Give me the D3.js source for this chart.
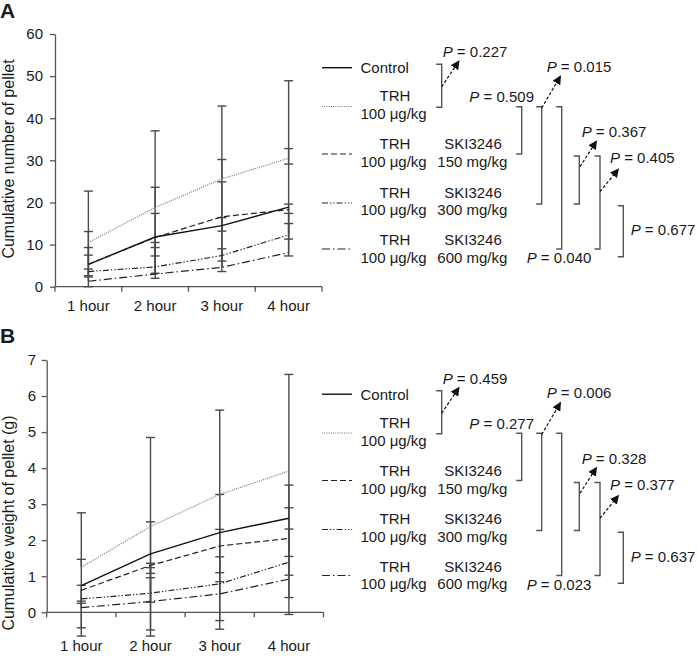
<!DOCTYPE html>
<html><head><meta charset="utf-8">
<script src="https://cdn.jsdelivr.net/npm/d3@7"></script>
<style>
html,body{margin:0;padding:0;background:#fff;}
text{font-family:"Liberation Sans",Arial,Helvetica,sans-serif;fill:#1a1a1a;}
</style></head>
<body><svg id="c" width="697" height="656"></svg>
<script>
// ---------- DATA ----------
const hours = ["1 hour", "2 hour", "3 hour", "4 hour"];
const seriesNames = ["Control", "TRH", "TRH+SKI3246 150", "TRH+SKI3246 300", "TRH+SKI3246 600"];

// Panel A: cumulative number of pellet (means)
const countControl = [5.3, 11.8, 14.5, 18.9];
const countTRH     = [10.5, 18.8, 25.6, 30.5];
const countSKI150  = [5.3, 11.7, 16.6, 18.3];
const countSKI300  = [3.6, 4.7, 7.4, 12.3];
const countSKI600  = [1.3, 3.0, 4.6, 8.1];
// error bar ends (upper / lower), null = not drawn
const countControlHi = [9.3, 23.6, 30.2, 32.8];
const countControlLo = [2.3, 2.0, 3.6, 7.3];
const countTRHHi     = [22.7, 37.0, 42.9, 48.9];
const countTRHLo     = [0, null, null, 29.1];
const countSKI150Hi  = [13.1, 17.4, 24.9, 19.6];
const countSKI150Lo  = [null, 7.3, 13.2, 11.3];
const countSKI300Hi  = [7.5, 10.5, 16.4, 17.4];
const countSKI300Lo  = [2.6, 3.2, 6.1, null];
const countSKI600Hi  = [4.2, 9.3, 9.0, 15.0];
const countSKI600Lo  = [null, null, null, null];

// Panel B: cumulative weight of pellet (g)
const weightControl = [0.74, 1.62, 2.21, 2.61];
const weightTRH     = [1.25, 2.38, 3.27, 3.92];
const weightSKI150  = [0.61, 1.30, 1.84, 2.05];
const weightSKI300  = [0.37, 0.53, 0.79, 1.39];
const weightSKI600  = [0.13, 0.30, 0.51, 0.92];
const weightControlHi = [1.47, 2.51, 3.27, 3.53];
const weightControlLo = [-0.66, 1.08, 1.10, 1.55];
const weightTRHHi     = [2.76, 4.85, 5.61, 6.60];
const weightTRHLo     = [null, -0.66, -0.47, -0.06];
const weightSKI150Hi  = [null, 1.36, 2.30, 2.90];
const weightSKI150Lo  = [-0.43, -0.49, -0.23, 1.03];
const weightSKI300Hi  = [0.75, 1.24, 1.54, 2.31];
const weightSKI300Lo  = [0.25, 0.28, null, 0.41];
const weightSKI600Hi  = [0.31, 0.96, 0.85, null];
const weightSKI600Lo  = [null, null, null, null];

const yTicksA = [0, 10, 20, 30, 40, 50, 60];
const yTicksB = [0, 1, 2, 3, 4, 5, 6, 7];

const pValuesA = ["0.227", "0.509", "0.015", "0.040", "0.367", "0.405", "0.677"];
const pValuesB = ["0.459", "0.277", "0.006", "0.023", "0.328", "0.377", "0.637"];

// ---------- STYLES ----------
const lineStyles = [
  {stroke: "#111", dash: null, w: 1.4},
  {stroke: "#777", dash: "1,1.2", w: 1.2},
  {stroke: "#222", dash: "6,3", w: 1.2},
  {stroke: "#222", dash: "6,2,1.3,2,1.3,2", w: 1.2},
  {stroke: "#222", dash: "8,3,1.5,3", w: 1.2}
];
const barColor = "#4a4a4a";
const FONT = 15;

const svg = d3.select("#c");

// arrow marker
svg.append("defs").append("marker")
  .attr("id", "ah").attr("viewBox", "0 0 10 10").attr("refX", 9).attr("refY", 5)
  .attr("markerWidth", 9).attr("markerHeight", 9).attr("markerUnits", "userSpaceOnUse")
  .attr("orient", "auto")
  .append("path").attr("d", "M0,0 L10,5 L0,10 Z").attr("fill", "#111");

function drawPanel(o) {
  const g = svg.append("g");
  const x = d3.scaleBand().domain(hours).range(o.xRange).padding(0);
  const y = d3.scaleLinear().domain(o.yDomain).range(o.yRange);
  const cx = d => x(d) + x.bandwidth() / 2;

  // panel letter
  g.append("text").attr("x", 0).attr("y", o.letterY).text(o.letter)
    .style("font-size", "21px").style("font-weight", "bold");

  // y axis
  const ya = g.append("g").attr("transform", `translate(${o.xRange[0]},0)`)
    .call(d3.axisLeft(y).tickValues(o.yTicks).tickFormat(d3.format("d"))
      .tickSize(5).tickSizeOuter(0).tickPadding(o.yPad));
  ya.selectAll("path,line").attr("stroke", "#555").attr("stroke-width", 1.3);
  ya.selectAll("text").style("font-size", FONT + "px").style("font-family", "Liberation Sans, Arial, sans-serif").attr("fill", "#1a1a1a");

  // x axis line + boundary ticks
  const y0 = y(0);
  g.append("line").attr("x1", o.xRange[0]).attr("x2", o.xRange[1]).attr("y1", y0).attr("y2", y0)
    .attr("stroke", "#555").attr("stroke-width", 1.3);
  const bounds = hours.map(h => x(h)).concat([x(hours[hours.length - 1]) + x.step()]);
  g.selectAll(".bt").data(bounds).join("line")
    .attr("x1", d => d).attr("x2", d => d).attr("y1", y0).attr("y2", y0 + 5)
    .attr("stroke", "#555").attr("stroke-width", 1.3);
  g.selectAll(".xl").data(hours).join("text")
    .attr("x", d => cx(d)).attr("y", o.xLabelY).attr("text-anchor", "middle")
    .style("font-size", FONT + "px").text(d => d);

  // y title
  g.append("text")
    .attr("transform", `translate(${o.titleX},${o.titleY}) rotate(-90)`)
    .attr("text-anchor", "middle").style("font-size", "16px").text(o.title);

  // error bars
  o.series.forEach(s => {
    s.mean.forEach((m, i) => {
      const xc = cx(hours[i]);
      [s.hi[i], s.lo[i]].forEach(e => {
        if (e === null || e === undefined) return;
        g.append("line").attr("x1", xc).attr("x2", xc).attr("y1", y(m)).attr("y2", y(e))
          .attr("stroke", barColor).attr("stroke-width", 1.4);
        g.append("line").attr("x1", xc - 4.5).attr("x2", xc + 4.5).attr("y1", y(e)).attr("y2", y(e))
          .attr("stroke", barColor).attr("stroke-width", 1.4);
      });
    });
  });

  // lines
  const line = d3.line().x((d, i) => cx(hours[i])).y(d => y(d));
  o.series.forEach((s, k) => {
    const st = lineStyles[k];
    g.append("path").attr("d", line(s.mean)).attr("fill", "none")
      .attr("stroke", st.stroke).attr("stroke-width", st.w)
      .attr("stroke-dasharray", st.dash);
  });

  // legend
  const oy = o.oy;
  const swY = [67.7, 106.5, 154, 203, 249];
  const l1Y = [73, 101, 149, 197.5, 245];
  const l2Y = [null, 119.3, 167, 215.3, 262.5];
  const doses = [null, null, "150 mg/kg", "300 mg/kg", "600 mg/kg"];
  seriesNames.forEach((n, k) => {
    const st = lineStyles[k];
    g.append("line").attr("x1", 322).attr("x2", 352).attr("y1", swY[k] + oy).attr("y2", swY[k] + oy)
      .attr("stroke", st.stroke).attr("stroke-width", st.w).attr("stroke-dasharray", st.dash);
    if (k === 0) {
      g.append("text").attr("x", 360.5).attr("y", l1Y[k] + oy).style("font-size", FONT + "px").text("Control");
      return;
    }
    g.append("text").attr("x", 395).attr("y", l1Y[k] + oy).attr("text-anchor", "middle")
      .style("font-size", FONT + "px").text("TRH");
    g.append("text").attr("x", 360.5).attr("y", l2Y[k] + oy).style("font-size", FONT + "px").text("100 μg/kg");
    if (doses[k]) {
      g.append("text").attr("x", 473).attr("y", l1Y[k] + oy).attr("text-anchor", "middle")
        .style("font-size", FONT + "px").text("SKI3246");
      g.append("text").attr("x", 437.3).attr("y", l2Y[k] + oy).style("font-size", FONT + "px").text(doses[k]);
    }
  });

  // brackets
  const br = [
    {x: 441.7, y1: 64.3, y2: 107.3, arrow: [441.7, 86.7, 459, 61], tx: 442.7, ty: 57, anchor: "start"},
    {x: 521.7, y1: 106.7, y2: 154, arrow: null, tx: 534, ty: 102, anchor: "end"},
    {x: 541.7, y1: 106.7, y2: 204, arrow: [541.7, 108, 560.5, 76], tx: 546.7, ty: 71.7, anchor: "start"},
    {x: 561.7, y1: 106.7, y2: 249, arrow: null, tx: 526.7, ty: 263.3, anchor: "start"},
    {x: 579.3, y1: 156, y2: 204, arrow: [580, 166.7, 596.5, 141], tx: 581.7, ty: 137.3, anchor: "start"},
    {x: 600, y1: 156, y2: 249, arrow: [600, 191.7, 618.5, 169], tx: 610, ty: 163.3, anchor: "start"},
    {x: 623.3, y1: 205.7, y2: 256.7, arrow: null, tx: 630.7, ty: 235, anchor: "start"}
  ];
  br.forEach((b, k) => {
    g.append("path")
      .attr("d", `M${b.x - 5.5},${b.y1 + oy} H${b.x} V${b.y2 + oy} H${b.x - 5.5}`)
      .attr("fill", "none").attr("stroke", "#555").attr("stroke-width", 1.4);
    if (b.arrow) {
      g.append("line").attr("x1", b.arrow[0]).attr("y1", b.arrow[1] + oy)
        .attr("x2", b.arrow[2]).attr("y2", b.arrow[3] + oy)
        .attr("stroke", "#111").attr("stroke-width", 1.2).attr("stroke-dasharray", "3,2")
        .attr("marker-end", "url(#ah)");
    }
    const t = g.append("text").attr("x", b.tx).attr("y", b.ty + oy).attr("text-anchor", b.anchor)
      .style("font-size", FONT + "px");
    t.append("tspan").style("font-style", "italic").text("P");
    t.append("tspan").text(" = " + o.pvals[k]);
  });
}

drawPanel({
  letter: "A", letterY: 18, oy: 0,
  xRange: [55, 322], yRange: [286.7, 34], yDomain: [0, 60], yTicks: yTicksA, yPad: 7,
  xLabelY: 310.5, titleX: 14, titleY: 159,
  title: "Cumulative number of pellet",
  pvals: pValuesA,
  series: [
    {mean: countControl, hi: countControlHi, lo: countControlLo},
    {mean: countTRH, hi: countTRHHi, lo: countTRHLo},
    {mean: countSKI150, hi: countSKI150Hi, lo: countSKI150Lo},
    {mean: countSKI300, hi: countSKI300Hi, lo: countSKI300Lo},
    {mean: countSKI600, hi: countSKI600Hi, lo: countSKI600Lo}
  ]
});

drawPanel({
  letter: "B", letterY: 343, oy: 326.5,
  xRange: [46.7, 323.5], yRange: [612.3, 360], yDomain: [0, 7], yTicks: yTicksB, yPad: 5.7,
  xLabelY: 651, titleX: 14, titleY: 523,
  title: "Cumulative weight of pellet (g)",
  pvals: pValuesB,
  series: [
    {mean: weightControl, hi: weightControlHi, lo: weightControlLo},
    {mean: weightTRH, hi: weightTRHHi, lo: weightTRHLo},
    {mean: weightSKI150, hi: weightSKI150Hi, lo: weightSKI150Lo},
    {mean: weightSKI300, hi: weightSKI300Hi, lo: weightSKI300Lo},
    {mean: weightSKI600, hi: weightSKI600Hi, lo: weightSKI600Lo}
  ]
});
</script></body></html>
